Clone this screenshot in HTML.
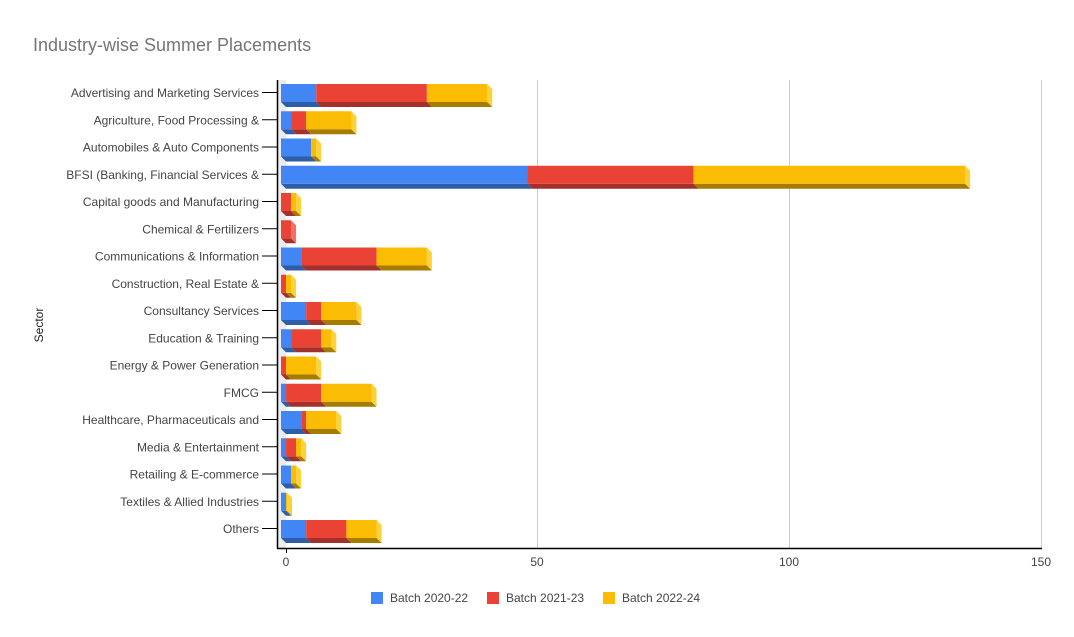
<!DOCTYPE html>
<html><head><meta charset="utf-8"><style>
body{margin:0;background:#fff;}
svg{display:block;font-family:"Liberation Sans",Arial,sans-serif;}
</style></head><body>
<svg id="c" width="1074" height="637" xmlns="http://www.w3.org/2000/svg">
<rect width="1074" height="637" fill="#fff"/>
<text x="33" y="51" font-size="18" fill="#757575">Industry-wise Summer Placements</text>
<g stroke="#ccc" stroke-width="1">
<line x1="537.5" y1="80" x2="537.5" y2="549"/>
<line x1="789.5" y1="80" x2="789.5" y2="549"/>
<line x1="1041.5" y1="80" x2="1041.5" y2="549"/>
</g>
<polygon points="277,80 286,80 286,549 277,549" fill="#ececec"/>
<g id="bars"></g>
<line x1="277.5" y1="80" x2="277.5" y2="549" stroke="#000" stroke-width="1.5"/>
<line x1="277" y1="548.5" x2="1042" y2="548.5" stroke="#000" stroke-width="1.5"/>
<line x1="286.5" y1="549" x2="286.5" y2="553" stroke="#000"/>
<g font-size="12" fill="#444" text-anchor="middle">
<text x="286" y="566">0</text><text x="537" y="566">50</text><text x="789" y="566">100</text><text x="1041" y="566">150</text>
</g>
<g id="labels" font-size="12" fill="#444" text-anchor="end"></g>
<text transform="translate(43,325) rotate(-90)" font-size="12" fill="#222" text-anchor="middle">Sector</text>
<g font-size="12" fill="#444">
<rect x="371" y="592" width="12" height="12" fill="#4285f4"/><text x="390" y="602">Batch 2020-22</text>
<rect x="487" y="592" width="12" height="12" fill="#ea4335"/><text x="506" y="602">Batch 2021-23</text>
<rect x="603" y="592" width="12" height="12" fill="#fbbc04"/><text x="622" y="602">Batch 2022-24</text>
</g>
</svg>
<script>
var data=[
["Advertising and Marketing Services",7,22,12],
["Agriculture, Food Processing &",2,3,9],
["Automobiles & Auto Components",6,0,1],
["BFSI (Banking, Financial Services &",49,33,54],
["Capital goods and Manufacturing",0,2,1],
["Chemical & Fertilizers",0,2,0],
["Communications & Information",4,15,10],
["Construction, Real Estate &",0,1,1],
["Consultancy Services",5,3,7],
["Education & Training",2,6,2],
["Energy & Power Generation",0,1,6],
["FMCG",1,7,10],
["Healthcare, Pharmaceuticals and",4,1,6],
["Media & Entertainment",1,2,1],
["Retailing & E-commerce",2,0,1],
["Textiles & Allied Industries",1,0,0.2],
["Others",5,8,6]];
var col=[["#4285f4","#2f5ea8","#6fa0f6"],["#ea4335","#a3302a","#f07065"],["#fbbc04","#a67c00","#fdd13a"]];
var s=5.03,h="",l="";
data.forEach(function(d,i){
 var cy=92+i*27.25,y=cy-8,x=281;
 var last=-1;for(var k=0;k<3;k++)if(d[k+1]>0)last=k;
 for(var k=0;k<3;k++){var w=d[k+1]*s;if(w<=0)continue;var c=col[k];
  h+='<polygon points="'+x+','+(y+18)+' '+(x+w)+','+(y+18)+' '+(x+w+5)+','+(y+23)+' '+(x+5)+','+(y+23)+'" fill="'+c[1]+'"/>';
  h+='<rect x="'+x+'" y="'+y+'" width="'+w+'" height="18" fill="'+c[0]+'"/>';
  if(k==last)h+='<polygon points="'+(x+w)+','+y+' '+(x+w+5)+','+(y+5)+' '+(x+w+5)+','+(y+23)+' '+(x+w)+','+(y+18)+'" fill="'+c[2]+'"/>';
  x+=w;}
 l+='<text x="259" y="'+(cy+5)+'">'+d[0].replace(/&/g,"&amp;")+'</text><line x1="262" y1="'+(cy+0.5)+'" x2="277" y2="'+(cy+0.5)+'" stroke="#000"/>';
});
document.getElementById("bars").innerHTML=h;
document.getElementById("labels").innerHTML=l;
</script>
</body></html>
